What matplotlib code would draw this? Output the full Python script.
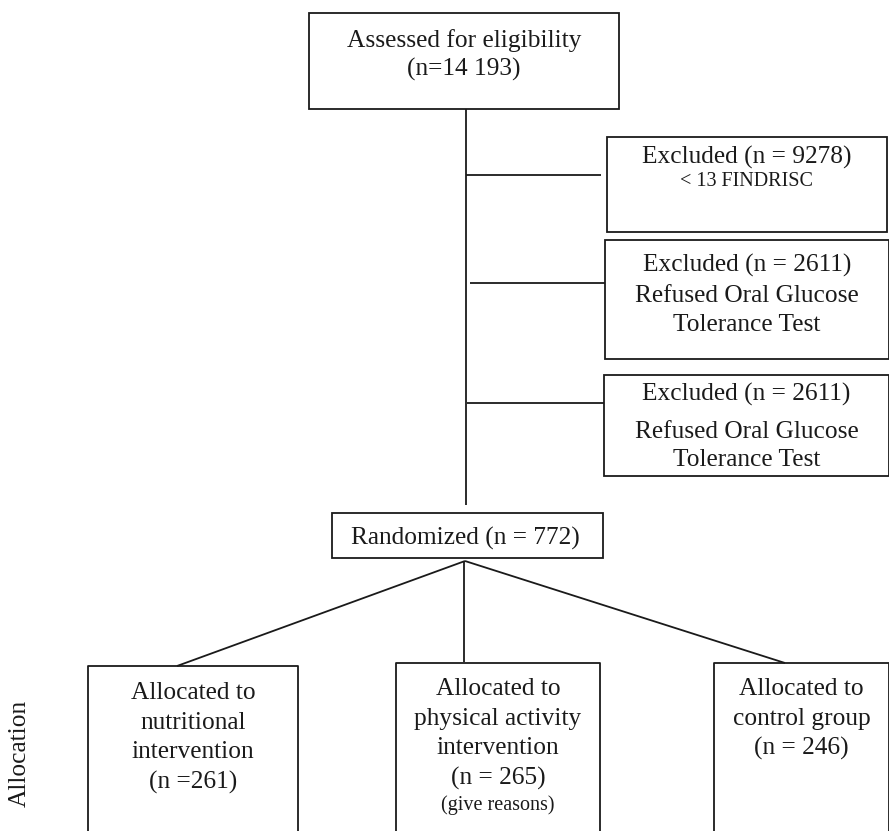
import matplotlib
matplotlib.use("Agg")
import matplotlib.pyplot as plt
from matplotlib.patches import Rectangle

plt.rcParams['font.family'] = ['Liberation Serif', 'DejaVu Serif']

# ---- content ----
assessed_lines = ["Assessed for eligibility", "(n=14 193)"]
excluded_counts = [9278, 2611, 2611]
excluded_reasons = [["< 13 FINDRISC"],
                    ["Refused Oral Glucose", "Tolerance Test"],
                    ["Refused Oral Glucose", "Tolerance Test"]]
randomized_n = 772
arm_labels = [["Allocated to", "nutritional", "intervention", "(n =261)"],
              ["Allocated to", "physical activity", "intervention", "(n = 265)"],
              ["Allocated to", "control group", "(n = 246)"]]
arm_notes = ["", "(give reasons)", ""]
stage_label = "Allocation"

W, H = 889, 831
fig = plt.figure(figsize=(W / 100, H / 100), dpi=100)
ax = fig.add_axes([0, 0, 1, 1])
ax.set_xlim(0, W)
ax.set_ylim(H, 0)
ax.axis('off')

LW = 1.3
FS = 18.3
FS_SMALL = 14.5
col = '#1a1a1a'

def box(x0, y0, x1, y1):
    ax.add_patch(Rectangle((x0, y0), x1 - x0, y1 - y0, fill=False,
                           edgecolor=col, linewidth=LW, clip_on=False))

def line(xs, ys):
    ax.plot(xs, ys, color=col, linewidth=LW, solid_capstyle='butt')

def txt(x, y, s, fs=FS):
    # y is the text baseline
    ax.text(x, y, s, ha='center', va='baseline', fontsize=fs, color=col)

# top box
box(309, 13, 619, 109)
for i, s in enumerate(assessed_lines):
    txt(464, 47 + i * 29, s)

# main vertical line
line([466, 466], [109, 505])

# excluded boxes
ex_boxes = [(607, 137, 887, 232), (605, 240, 889, 359), (604, 375, 889, 476)]
ex_lines = [(466, 601, 175), (470, 605, 283), (467, 604, 403)]
ex_text_y = [[164, 186], [272, 302, 331], [401, 438, 466]]
for k in range(3):
    x0, y0, x1, y1 = ex_boxes[k]
    box(x0, y0, x1, y1)
    a, b, yl = ex_lines[k]
    line([a, b], [yl, yl])
    cx = (x0 + x1) / 2
    ys = ex_text_y[k]
    txt(cx, ys[0], f"Excluded (n = {excluded_counts[k]})")
    for j, s in enumerate(excluded_reasons[k]):
        txt(cx, ys[j + 1], s, fs=(FS_SMALL if k == 0 else FS))

# randomized box
box(332, 513, 603, 558)
txt(465, 545, f"Randomized (n = {randomized_n})")

# branches
line([465, 177], [561, 666])
line([464, 464], [561, 662])
line([465, 785], [561, 663])

# arm boxes
arm_boxes = [(88, 666, 298), (396, 663, 600), (714, 663, 889)]
for k in range(3):
    x0, y0, x1 = arm_boxes[k]
    ax.plot([x0, x0, x1, x1], [H + 5, y0, y0, H + 5], color=col,
            linewidth=LW, clip_on=True)
    cx = (x0 + x1) / 2
    ystart = 699 if k == 0 else 695
    for j, s in enumerate(arm_labels[k]):
        txt(cx, ystart + j * 29.7, s)
    if arm_notes[k]:
        txt(cx, ystart + len(arm_labels[k]) * 29.7 - 4, arm_notes[k],
            fs=FS_SMALL)

ax.text(20, 753, stage_label, rotation=90, ha='center', va='center',
        fontsize=FS, color=col)

fig.savefig("out.png", dpi=100)
